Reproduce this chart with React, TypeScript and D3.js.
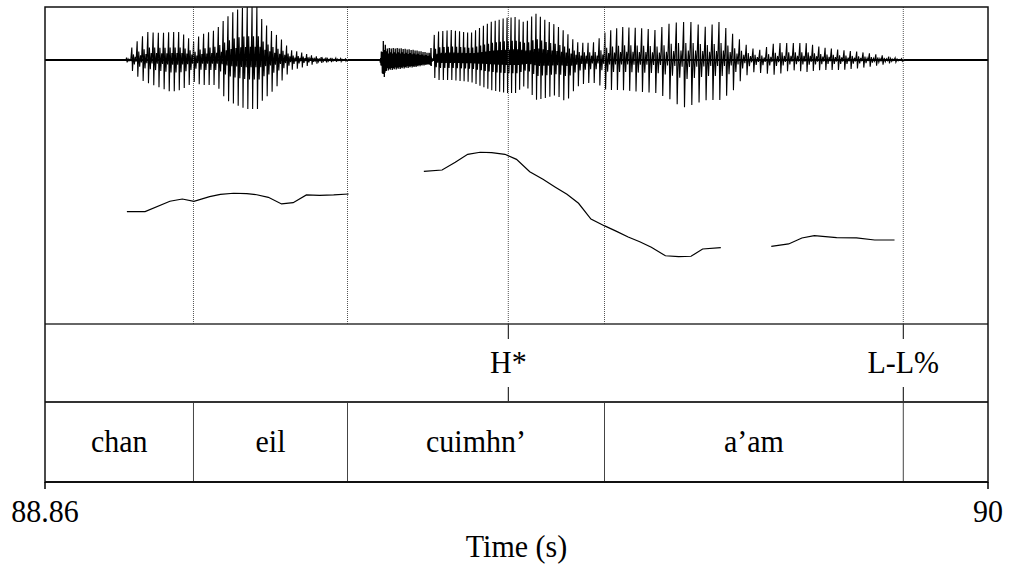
import React from 'react';
import * as d3 from 'd3';

// ---------- data ----------
const timeDomain = [88.86, 90];
const tickTimes = [88.86, 90];
const tickLabels = ['88.86', '90'];
const xAxisTitle = 'Time (s)';

// word tier (interval boundaries inside the window) and labels
const wordBoundaries = [89.0395, 89.2257, 89.5364, 89.8976];
const wordLabels = ['chan', 'eil', 'cuimhn’', 'a’am', ''];

// tone tier (points)
const tonePoints = [89.4201, 89.8976];
const toneLabels = ['H*', 'L-L%'];

// pitch track (Hz), three voiced stretches
const pitchSeg1T = [88.959, 88.981, 89.011, 89.026, 89.040, 89.059, 89.072, 89.088, 89.104, 89.116, 89.130, 89.146, 89.160, 89.176, 89.192, 89.209, 89.227];
const pitchSeg1Hz = [155.0, 155.0, 164.7, 166.8, 164.7, 169.0, 171.2, 172.2, 171.8, 170.8, 168.4, 162.2, 163.4, 170.6, 170.3, 170.6, 171.5];
const pitchSeg2T = [89.318, 89.340, 89.356, 89.371, 89.386, 89.400, 89.416, 89.430, 89.446, 89.462, 89.477, 89.491, 89.505, 89.520, 89.536, 89.551, 89.565, 89.579, 89.593, 89.610, 89.626, 89.641, 89.655, 89.677];
const pitchSeg2Hz = [192.7, 193.9, 201.1, 208.6, 210.5, 210.1, 208.6, 203.9, 192.3, 185.2, 177.8, 171.2, 162.8, 148.1, 141.9, 136.6, 131.3, 126.9, 121.7, 113.8, 112.9, 113.3, 120.1, 121.3];
const pitchSeg3T = [89.738, 89.759, 89.775, 89.790, 89.817, 89.841, 89.863, 89.887];
const pitchSeg3Hz = [122.6, 124.8, 130.4, 132.5, 130.7, 130.4, 128.5, 128.5];
const pitchRange = [50, 250];

// waveform amplitude envelope (relative units)
const envTimes = [88.860, 88.957, 88.960, 88.966, 88.975, 88.983, 88.999, 89.011, 89.023, 89.039, 89.047, 89.066, 89.078, 89.090, 89.102, 89.116, 89.122, 89.132, 89.144, 89.156, 89.168, 89.180, 89.192, 89.223, 89.265, 89.269, 89.273, 89.289, 89.307, 89.325, 89.331, 89.350, 89.374, 89.398, 89.416, 89.428, 89.440, 89.452, 89.464, 89.477, 89.489, 89.501, 89.513, 89.525, 89.537, 89.555, 89.579, 89.597, 89.616, 89.628, 89.640, 89.658, 89.674, 89.688, 89.700, 89.712, 89.724, 89.742, 89.761, 89.779, 89.797, 89.821, 89.845, 89.869, 89.888, 89.897, 90.000];
const envTop = [0.019, 0.019, 0.094, 0.283, 0.415, 0.528, 0.509, 0.528, 0.528, 0.340, 0.472, 0.566, 0.792, 0.943, 1.0, 1.0, 0.755, 0.566, 0.415, 0.189, 0.151, 0.094, 0.057, 0.019, 0.019, 0.377, 0.226, 0.226, 0.189, 0.132, 0.528, 0.566, 0.509, 0.717, 0.792, 0.811, 0.698, 0.887, 0.755, 0.660, 0.528, 0.340, 0.321, 0.340, 0.528, 0.623, 0.604, 0.566, 0.698, 0.717, 0.717, 0.623, 0.717, 0.528, 0.377, 0.226, 0.189, 0.321, 0.321, 0.321, 0.245, 0.189, 0.151, 0.094, 0.038, 0.019, 0.019];
const envBottom = [-0.019, -0.019, -0.094, -0.245, -0.377, -0.434, -0.528, -0.604, -0.566, -0.415, -0.472, -0.472, -0.755, -0.849, -0.925, -0.925, -0.755, -0.623, -0.415, -0.189, -0.151, -0.094, -0.057, -0.019, -0.019, -0.415, -0.226, -0.189, -0.151, -0.094, -0.377, -0.377, -0.415, -0.566, -0.623, -0.623, -0.472, -0.755, -0.717, -0.660, -0.792, -0.509, -0.434, -0.434, -0.566, -0.566, -0.604, -0.623, -0.755, -0.906, -0.849, -0.755, -0.755, -0.623, -0.377, -0.226, -0.245, -0.283, -0.189, -0.226, -0.189, -0.189, -0.151, -0.094, -0.038, -0.019, -0.019];
const voicedIntervals: [number, number][] = [[88.958, 89.223], [89.325, 89.897]];
const noiseIntervals: [number, number][] = [[89.265, 89.327]];
// fixed fluctuation pattern of the frication noise (fractions of the envelope)
const noisePattern = [0.55, 0.9, 0.4, 0.75, 1.0, 0.5, 0.65, 0.85, 0.35, 0.7, 0.95, 0.6];

// ---------- layout ----------
const W = 1015, H = 564;
const L = 45, R = 988, TOP = 7, SIGNAL_BOTTOM = 324, TONE_BOTTOM = 402, BOTTOM = 482;
const FONT = '"Liberation Serif", "Times New Roman", Tinos, "DejaVu Serif", serif';

function Label({ x, y, children }: { x: number; y: number; children: React.ReactNode }) {
  return (
    <text transform={`translate(${x},${y}) scale(1,1.08)`} textAnchor="middle"
      style={{ fontFamily: FONT, fontSize: 30 }}>{children}</text>
  );
}

export default function App() {
  const x = d3.scaleLinear().domain(timeDomain).range([L, R]);
  const yWave = d3.scaleLinear().domain([-1, 1]).range([113, 7]);
  const yPitch = d3.scaleLinear().domain(pitchRange).range([SIGNAL_BOTTOM, 110]);

  const allT = [...pitchSeg1T, ...pitchSeg2T, ...pitchSeg3T];
  const allHz = [...pitchSeg1Hz, ...pitchSeg2Hz, ...pitchSeg3Hz];
  const f0 = d3.scaleLinear().domain(allT).range(allHz).clamp(true);
  const topAt = d3.scaleLinear().domain(envTimes).range(envTop).clamp(true);
  const botAt = d3.scaleLinear().domain(envTimes).range(envBottom).clamp(true);

  // glottal pulses driven by the pitch track, scaled by the envelope
  const waveLine = d3.line<[number, number]>().x(d => x(d[0])).y(d => yWave(d[1]));
  const pulsePaths = voicedIntervals.map(([a, b]) => {
    const pts: [number, number][] = [[a, 0]];
    let t = a;
    while (t < b) {
      const P = 1 / f0(t);
      const tp = topAt(t), bt = botAt(t);
      pts.push([t + 0.08 * P, tp]);
      pts.push([t + 0.2 * P, bt]);
      pts.push([t + 0.38 * P, 0.45 * tp]);
      pts.push([t + 0.55 * P, 0.4 * bt]);
      pts.push([t + 0.72 * P, 0.25 * tp]);
      pts.push([t + 0.88 * P, 0.15 * bt]);
      t += P;
    }
    pts.push([b, 0]);
    return waveLine(pts) as string;
  });

  // frication noise: zig-zag between envelope fractions
  const noisePaths = noiseIntervals.map(([a, b]) => {
    const pts: [number, number][] = [];
    const step = 0.0004;
    let k = 0;
    for (let t = a; t <= b; t += step, k++) {
      const f = noisePattern[k % noisePattern.length];
      pts.push([t, k % 2 === 0 ? f * topAt(t) : f * botAt(t)]);
    }
    return waveLine(pts) as string;
  });

  const segs = [
    [pitchSeg1T, pitchSeg1Hz],
    [pitchSeg2T, pitchSeg2Hz],
    [pitchSeg3T, pitchSeg3Hz],
  ].map(([ts, hz]) =>
    d3.line<number>().x((_, i) => x(ts[i])).y((_, i) => yPitch(hz[i]))(ts) as string
  );

  const dottedTimes = [...wordBoundaries, ...tonePoints].filter((v, i, arr) => arr.indexOf(v) === i);
  const wordEdges = [timeDomain[0], ...wordBoundaries, timeDomain[1]];

  return (
    <svg width={W} height={H} style={{ position: 'absolute', left: 0, top: 0, background: '#fff' }}>
      {/* waveform baseline */}
      <line x1={x(timeDomain[0])} x2={x(timeDomain[1])} y1={yWave(0)} y2={yWave(0)} stroke="#000" strokeWidth={1.8} />
      {noisePaths.map((d, i) => <path key={'n' + i} d={d} fill="none" stroke="#000" strokeWidth={1.3} />)}
      {pulsePaths.map((d, i) => <path key={'p' + i} d={d} fill="none" stroke="#000" strokeWidth={1.1} />)}

      {/* dotted boundary lines in signal panel */}
      {dottedTimes.map((t, i) => (
        <line key={'d' + i} x1={x(t)} x2={x(t)} y1={TOP} y2={SIGNAL_BOTTOM} stroke="#555" strokeWidth={1} strokeDasharray="1,1" />
      ))}

      {/* pitch */}
      {segs.map((d, i) => <path key={'f' + i} d={d} fill="none" stroke="#000" strokeWidth={1.2} />)}

      {/* tone tier ticks and labels */}
      {tonePoints.map((t, i) => (
        <g key={'t' + i}>
          <line x1={x(t)} x2={x(t)} y1={SIGNAL_BOTTOM} y2={339} stroke="#000" strokeWidth={1} />
          <line x1={x(t)} x2={x(t)} y1={387} y2={TONE_BOTTOM} stroke="#000" strokeWidth={1} />
          <Label x={x(t)} y={373}>{toneLabels[i]}</Label>
        </g>
      ))}

      {/* word tier */}
      {wordBoundaries.map((t, i) => (
        <line key={'w' + i} x1={x(t)} x2={x(t)} y1={TONE_BOTTOM} y2={BOTTOM} stroke="#444" strokeWidth={1} />
      ))}
      {wordLabels.map((lab, i) => (
        <Label key={'wl' + i} x={(x(wordEdges[i]) + x(wordEdges[i + 1])) / 2} y={452}>{lab}</Label>
      ))}

      {/* tier separators and frame */}
      <line x1={L} x2={R} y1={SIGNAL_BOTTOM} y2={SIGNAL_BOTTOM} stroke="#333" strokeWidth={1.5} />
      <line x1={L} x2={R} y1={TONE_BOTTOM} y2={TONE_BOTTOM} stroke="#333" strokeWidth={2} />
      <rect x={L} y={TOP} width={R - L} height={BOTTOM - TOP} fill="none" stroke="#111" strokeWidth={1.5} />
      <line x1={L} x2={R} y1={BOTTOM} y2={BOTTOM} stroke="#111" strokeWidth={2} />

      {/* time axis */}
      {tickTimes.map((t, i) => (
        <g key={'k' + i}>
          <line x1={x(t)} x2={x(t)} y1={BOTTOM} y2={489} stroke="#000" strokeWidth={1.5} />
          <Label x={x(t)} y={522}>{tickLabels[i]}</Label>
        </g>
      ))}
      <Label x={(L + R) / 2} y={557}>{xAxisTitle}</Label>
    </svg>
  );
}
